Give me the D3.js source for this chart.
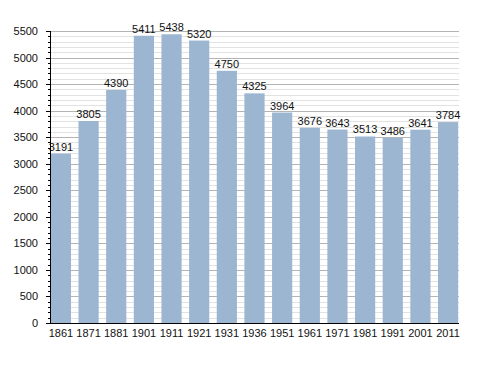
<!DOCTYPE html>
<html><head><meta charset="utf-8">
<script src="https://cdn.jsdelivr.net/npm/d3@7"></script>
<style>body{margin:0;background:#fff}svg{display:block}</style>
</head><body>
<script>
const years = ["1861","1871","1881","1901","1911","1921","1931","1936","1951","1961","1971","1981","1991","2001","2011"];
const values = [3191,3805,4390,5411,5438,5320,4750,4325,3964,3676,3643,3513,3486,3641,3784];
const majorTicks = [0,500,1000,1500,2000,2500,3000,3500,4000,4500,5000,5500];

(function(){
const W = 488, H = 373;
const pL = 50, pR = 459, pT = 31, pB = 323;
const svg = d3.select("body").append("svg").attr("width", W).attr("height", H);
const y = d3.scaleLinear().domain([0,5500]).range([pB, pT]);
const x = d3.scaleBand().domain(years).range([pL, pR]).paddingInner(0.27).paddingOuter(0.03);
const font = "Liberation Sans, Arial, sans-serif";

const minor = d3.range(0, 5501, 100).filter(v => v % 500 !== 0);
svg.append("g").selectAll("line").data(minor).join("line")
  .attr("x1", pL).attr("x2", pR).attr("y1", d => Math.round(y(d))+0.5).attr("y2", d => Math.round(y(d))+0.5)
  .attr("stroke", "#e2e2e2").attr("stroke-width", 1);
svg.append("g").selectAll("line").data(majorTicks.filter(d=>d>0)).join("line")
  .attr("x1", pL).attr("x2", pR).attr("y1", d => Math.round(y(d))+0.5).attr("y2", d => Math.round(y(d))+0.5)
  .attr("stroke", "#b4b4b4").attr("stroke-width", 1);

svg.append("g").selectAll("rect").data(values).join("rect")
  .attr("x", (d,i) => x(years[i])).attr("width", x.bandwidth())
  .attr("y", d => y(d)).attr("height", d => pB - y(d))
  .attr("fill", "#9cb5d1");

svg.append("g").selectAll("text").data(values).join("text")
  .attr("x", (d,i) => x(years[i]) + x.bandwidth()/2).attr("y", d => y(d) - 3)
  .attr("text-anchor", "middle").attr("font-family", font).attr("font-size", 11).attr("fill", "#111")
  .text(d => d);

const ya = svg.append("g");
ya.append("line").attr("x1", pL+0.5).attr("x2", pL+0.5).attr("y1", pT).attr("y2", pB).attr("stroke", "#000");
ya.selectAll("line.mi").data(d3.range(0,5501,100)).join("line").attr("class","mi")
  .attr("x1", d => d%500===0 ? pL-4 : pL-2).attr("x2", pL)
  .attr("y1", d => Math.round(y(d))+0.5).attr("y2", d => Math.round(y(d))+0.5).attr("stroke", "#000");
ya.selectAll("text").data(majorTicks).join("text")
  .attr("x", pL-12).attr("y", d => y(d)+4).attr("text-anchor", "end")
  .attr("font-family", font).attr("font-size", 11).attr("fill", "#111").text(d => d);

svg.append("line").attr("x1", pL).attr("x2", pR).attr("y1", pB+0.5).attr("y2", pB+0.5).attr("stroke", "#000");
svg.append("g").selectAll("text").data(years).join("text")
  .attr("x", d => x(d) + x.bandwidth()/2).attr("y", pB + 14).attr("text-anchor", "middle")
  .attr("font-family", font).attr("font-size", 11).attr("fill", "#111").text(d => d);
})();
</script>
</body></html>
